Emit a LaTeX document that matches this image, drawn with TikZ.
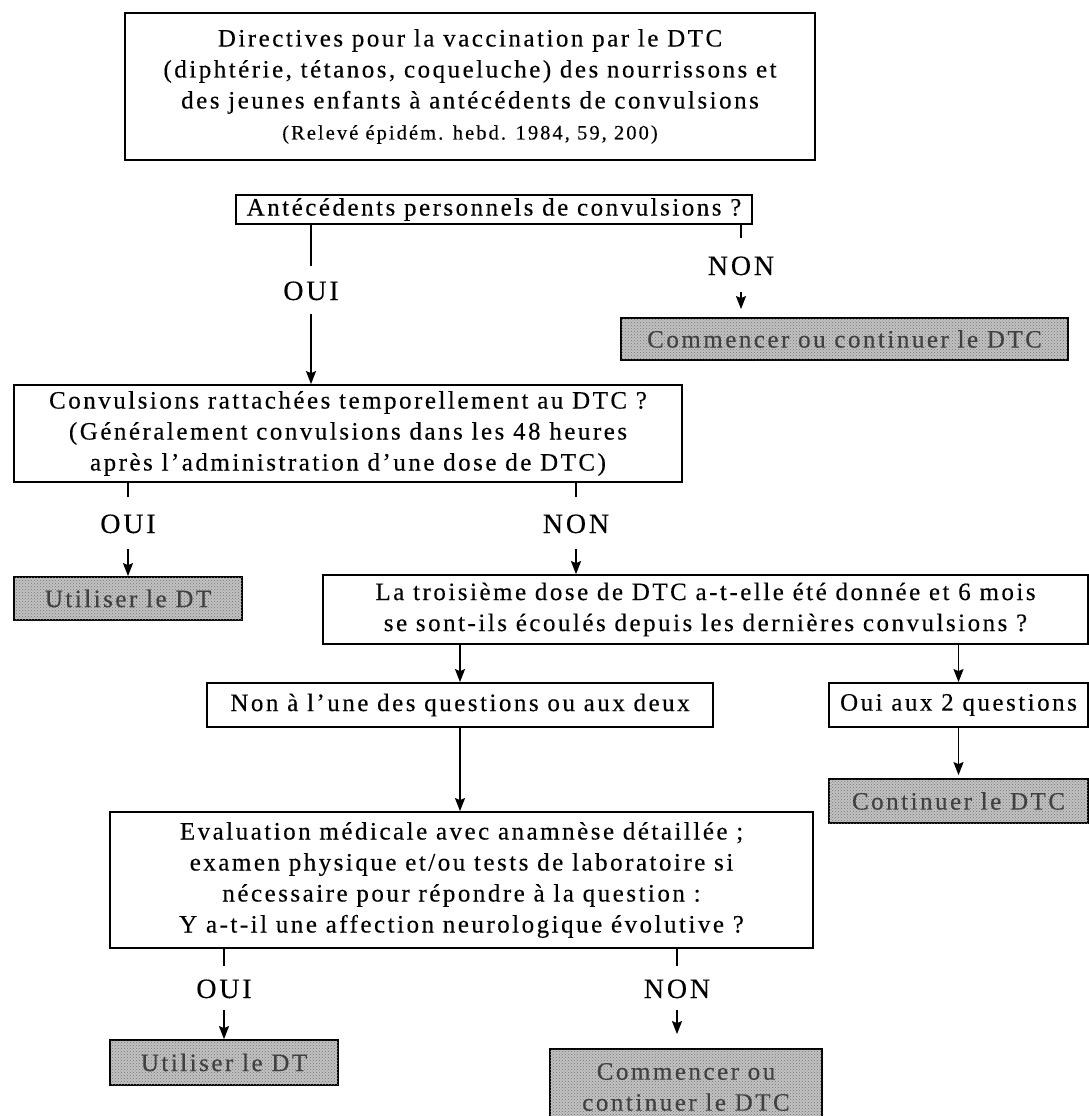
\documentclass[tikz,border=0pt]{standalone}
\usepackage{fontspec}
\setmainfont{Liberation Serif}
\newfontfamily\tfam{Liberation Serif}[LetterSpace=10,FakeBold=0.3]
\usetikzlibrary{arrows.meta,patterns}
\newcommand\bodyfont{\tfam\fontsize{25}{31}\selectfont}
\newcommand\labfont{\tfam\fontsize{28}{32}\selectfont}
\newcommand\smallfont{\tfam\fontsize{20.5}{24}\selectfont}
\tikzset{
  box/.style={draw, line width=1.8pt, inner sep=0pt, align=center, font=\bodyfont},
  gbox/.style={box, fill=black!24, text=black!75,
    postaction={pattern=crosshatch dots, pattern color=black!55}},
  lab/.style={font=\labfont, inner xsep=0pt, text height=20pt, text depth=0pt},
  ln/.style={line width=1.6pt},
  arr/.style={line width=1.6pt, -{Stealth[length=13pt,width=10pt,inset=2pt]}}
}
\begin{document}
\begin{tikzpicture}[x=1pt,y=-1pt]
\useasboundingbox (0,0) rectangle (1089,1116);
% boxes
\node[box, line width=2.2pt, minimum width=690, minimum height=147] (title) at (470,86.5)
  {Directives pour la vaccination par le DTC\\(diphtérie, tétanos, coqueluche) des nourrissons et\\des jeunes enfants à antécédents de convulsions\\{\smallfont (Relevé épidém. hebd. 1984, 59, 200)}};
\node[box, minimum width=516, minimum height=29] (A) at (494,209.5) {Antécédents personnels de convulsions ?};
\node[gbox, minimum width=447, minimum height=42] (C1) at (844.5,339) {Commencer ou continuer le DTC};
\node[box, minimum width=668, minimum height=97] (B) at (348,433.5)
  {Convulsions rattachées temporellement au DTC ?\\(Généralement convulsions dans les 48 heures\\après l’administration d’une dose de DTC)};
\node[gbox, minimum width=228, minimum height=43] (U1) at (128,598.5) {Utiliser le DT};
\node[box, minimum width=765, minimum height=69] (Q3) at (705.5,609.5)
  {La troisième dose de DTC a-t-elle été donnée et 6 mois\\se sont-ils écoulés depuis les dernières convulsions ?};
\node[box, minimum width=506, minimum height=44] (D) at (460,705) {Non à l’une des questions ou aux deux};
\node[box, minimum width=259, minimum height=44] (Y2) at (958.5,705) {Oui aux 2 questions};
\node[gbox, minimum width=259, minimum height=44] (CT) at (958.5,801) {Continuer le DTC};
\node[box, minimum width=703, minimum height=136] (E) at (461.5,880)
  {Evaluation médicale avec anamnèse détaillée ;\\examen physique et/ou tests de laboratoire si\\nécessaire pour répondre à la question :\\Y a-t-il une affection neurologique évolutive ?};
\node[gbox, minimum width=228, minimum height=45] (U2) at (224,1062.5) {Utiliser le DT};
\node[gbox, minimum width=272, minimum height=76] (C2) at (686,1087) {Commencer ou\\continuer le DTC};
% labels
\node[lab, inner ysep=14pt] (o1) at (311,290) {OUI};
\node[lab, inner ysep=17pt] (n1) at (741,265) {NON};
\node[lab, inner ysep=16pt] (o2) at (128,523) {OUI};
\node[lab, inner ysep=16pt] (n2) at (576,523) {NON};
\node[lab, inner ysep=12pt] (o3) at (224,988) {OUI};
\node[lab, inner ysep=12pt] (n3) at (677,988) {NON};
% connectors
\draw[ln] (A.south -| o1) -- (o1.north);
\draw[arr] (o1.south) -- (B.north -| o1);
\draw[ln] (A.south -| n1) -- (n1.north);
\draw[arr, shorten >=8pt] (n1.south) -- (C1.north -| n1);
\draw[ln] (B.south -| o2) -- (o2.north);
\draw[arr] (o2.south) -- (U1.north -| o2);
\draw[ln] (B.south -| n2) -- (n2.north);
\draw[arr] (n2.south) -- (Q3.north -| n2);
\draw[arr] (Q3.south -| D.north) -- (D.north);
\draw[arr] (Q3.south -| Y2.north) -- (Y2.north);
\draw[arr, shorten >=3pt] (Y2.south) -- (CT.north);
\draw[arr] (D.south) -- (E.north -| D.south);
\draw[ln] (E.south -| o3) -- (o3.north);
\draw[arr] (o3.south) -- (U2.north -| o3);
\draw[ln] (E.south -| n3) -- (n3.north);
\draw[arr, shorten >=14pt] (n3.south) -- (C2.north -| n3);
\end{tikzpicture}
\end{document}
